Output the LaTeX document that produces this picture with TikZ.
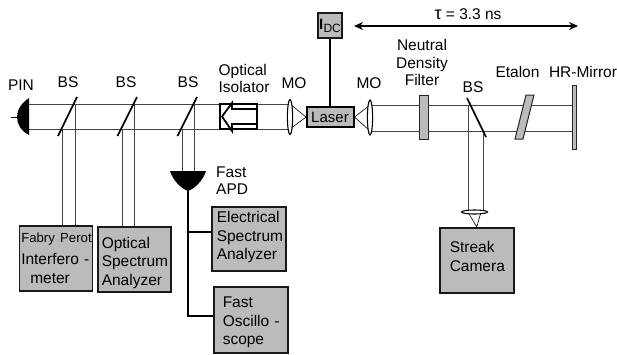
\documentclass[tikz,border=0pt]{standalone}
\usepackage{fontspec}
\setmainfont{Liberation Sans}
\usetikzlibrary{arrows.meta}
\definecolor{boxgray}{HTML}{BBBBBB}
\definecolor{beamgray}{HTML}{444444}
\tikzset{
  lbl/.style={inner sep=0pt,font=\fontsize{15.5}{17.6}\selectfont,text=black},
  mlbl/.style={lbl,align=left},
  clbl/.style={lbl,align=center},
  instr/.style={draw=black!90,line width=1.5pt,fill=boxgray,minimum width=#1,text width=#1,
     inner ysep=0pt,inner xsep=0pt,align=left,anchor=north west,
     font=\fontsize{15.5}{18.6}\selectfont,text=black},
  beam/.style={draw=beamgray,line width=0.8pt},
  splitter/.style={draw=black,line width=1.7pt},
  lead/.style={draw=black,line width=1.6pt},
  lensbody/.style={draw=black,line width=1.1pt,fill=white},
  cone/.style={draw=black,line width=0.6pt,fill=white},
  graypart/.style={draw=black!85,line width=1pt,fill=boxgray}
}
\begin{document}
\begin{tikzpicture}[x=1pt,y=-1pt]
\useasboundingbox (0,0) rectangle (617,354);
% named coordinates
\coordinate (pinU) at (29,104); \coordinate (pinL) at (29,129);
\coordinate (mirU) at (572,105); \coordinate (mirL) at (572,131);
\coordinate (moaU) at (290,104); \coordinate (moaL) at (290,129);
\coordinate (mobU) at (370,105); \coordinate (mobL) at (370,131);
\coordinate (b1L) at (62,129); \coordinate (b1U) at (75,104);
\coordinate (b2L) at (122,129); \coordinate (b2U) at (134,104);
\coordinate (b3L) at (182,129); \coordinate (b3U) at (194,104);
\coordinate (b4U) at (468,105); \coordinate (b4L) at (483,131);
\coordinate (apdL) at (182,171); \coordinate (apdR) at (194,171);
\coordinate (apdTip) at (188,191);
\coordinate (lensA) at (468,212); \coordinate (lensB) at (483,212);
\coordinate (arrA) at (354,26); \coordinate (arrB) at (578,26);
% beams
\draw[beam] (pinU) -- (moaU);
\draw[beam] (pinL) -- (moaL);
\draw[beam] (mobU) -- (mirU);
\draw[beam] (mobL) -- (mirL);
% boxes
\node[instr=73pt,minimum height=65pt] (fabry) at (18.5,225)
  {\hspace*{2pt}\mbox{\fontsize{13.2}{18.6}\selectfont Fabry Perot}\\[3pt]\hspace*{2pt}Interfero -\\\hspace*{11pt}meter};
\node[instr=73pt,minimum height=65pt] (osa) at (97,226)
  {\rule{0pt}{18pt}\hspace*{4pt}Optical\\\hspace*{4pt}Spectrum\\\hspace*{4pt}Analyzer};
\node[instr=74pt,minimum height=64pt] (esa) at (211,206)
  {\hspace*{5pt}Electrical\\\hspace*{5pt}Spectrum\\\hspace*{5pt}Analyzer\rule[-6pt]{0pt}{0pt}};
\node[instr=74pt,minimum height=66pt] (osc) at (213,286)
  {\rule{0pt}{16pt}\hspace*{9pt}Fast\\\hspace*{9pt}Oscillo -\\\hspace*{9pt}scope};
\node[instr=74pt,minimum height=65pt] (streak) at (439,227)
  {\hspace*{10pt}Streak\\\hspace*{10pt}Camera\rule[-8pt]{0pt}{0pt}};
\node[draw=black!90,line width=1.5pt,fill=boxgray,minimum width=24pt,minimum height=25pt,inner sep=0pt,
  font=\fontsize{15}{17}\selectfont,text=black] (idc) at (330,25.5) {\textbf{I}\kern0.3pt\raisebox{-3pt}{\fontsize{12}{12}\selectfont DC}};
% vertical beams to instruments
\draw[beam] (b1L) -- (b1L |- fabry.north);
\draw[beam] (b1U) -- (b1U |- fabry.north);
\draw[beam] (b2L) -- (b2L |- osa.north);
\draw[beam] (b2U) -- (b2U |- osa.north);
\draw[beam] (b3L) -- (apdL);
\draw[beam] (b3U) -- (apdR);
\draw[beam] (b4U) -- (lensA);
\draw[beam] (b4L) -- (lensB);
% beam splitters
\draw[splitter] (58,136) -- (77,97);
\draw[splitter] (117.5,136) -- (137,97);
\draw[splitter] (177.5,136) -- (197,97);
\draw[splitter] (467,98) -- (486,137);
% PIN detector
\fill[black] (29,98) .. controls (20,104) and (17,111) .. (17,117) .. controls (17,124) and (21,131) .. (29,135) -- cycle;
\draw[black,line width=1pt] (11,117) -- (18,117);
% APD
\fill[black] (170,171) -- (206,171) .. controls (203,181) and (194,189) .. (apdTip) .. controls (182,189) and (173,181) .. (170,171) -- cycle;
\coordinate (jE) at (188,232); \coordinate (jO) at (188,316);
\draw[lead] (apdTip) -- (jO) -- (jO -| osc.west);
\draw[lead] (jE) -- (jE -| esa.west);
% isolator
\fill[white] (220,104) rectangle (257,129);
\draw[black,line width=1.8pt] (257,109) -- (232,109) -- (232,103) -- (222,116.5) -- (232,131) -- (232,124) -- (257,124);
\draw[black,line width=1.8pt] (220,104) rectangle (257,129);
% left MO
\draw[cone] (moaU) -- (306,117) -- (moaL);
\draw[lensbody] (290,117) ellipse (2.6 and 17.5);
% laser
\node[draw=black,line width=2pt,fill=boxgray,minimum width=47pt,minimum height=19.5pt,inner sep=0pt,
  font=\fontsize{15}{17}\selectfont,text=black] (laser) at (330,117) {Laser};
\draw[lead] (idc.south) -- (laser.north);
% right MO
\draw[cone] (laser.east) -- (mobU) (laser.east) -- (mobL);
\draw[lensbody] (370,117.5) ellipse (2.6 and 17.5);
% ND filter, etalon, mirror
\draw[graypart] (419.5,95) rectangle (428.5,139);
\draw[graypart] (515,139) -- (523,139) -- (534,95) -- (526,95) -- cycle;
\draw[graypart] (572,85) rectangle (576.5,149);
% streak lens
\draw[cone] (lensA) -- (streak.north) -- (481,212);
\draw[black,line width=1.1pt,fill=white] (474.5,212) ellipse (13 and 2);
% delay arrow
\draw[line width=1.2pt,{Stealth[length=9pt,width=8pt]}-{Stealth[length=9pt,width=8pt]}] (arrA) -- (arrB);
% labels
\node[lbl] (tPIN) at (21,85) {PIN};
\node[lbl] (tB1) at (68,82) {BS};
\node[lbl] (tB2) at (126,82) {BS};
\node[lbl] (tB3) at (188,82) {BS};
\node[mlbl,anchor=center] (tIso) at (244,78.5) {Optical\\Isolator};
\node[lbl] (tMOa) at (294,83) {MO};
\node[mlbl,anchor=west] (tAPD) at (216,180.5) {Fast\\APD};
\node[lbl] (tMOb) at (369,83) {MO};
\node[clbl] (tND) at (422,62.5) {Neutral\\Density\\Filter};
\node[lbl] (tB4) at (473,87) {BS};
\node[lbl] (tEt) at (517.5,72) {Etalon};
\node[lbl] (tHR) at (583,72) {HR-Mirror};
\node[lbl] (tTau) at (468,14) {{\fontsize{18}{18}\selectfont τ} = 3.3 ns};
\end{tikzpicture}
\end{document}
